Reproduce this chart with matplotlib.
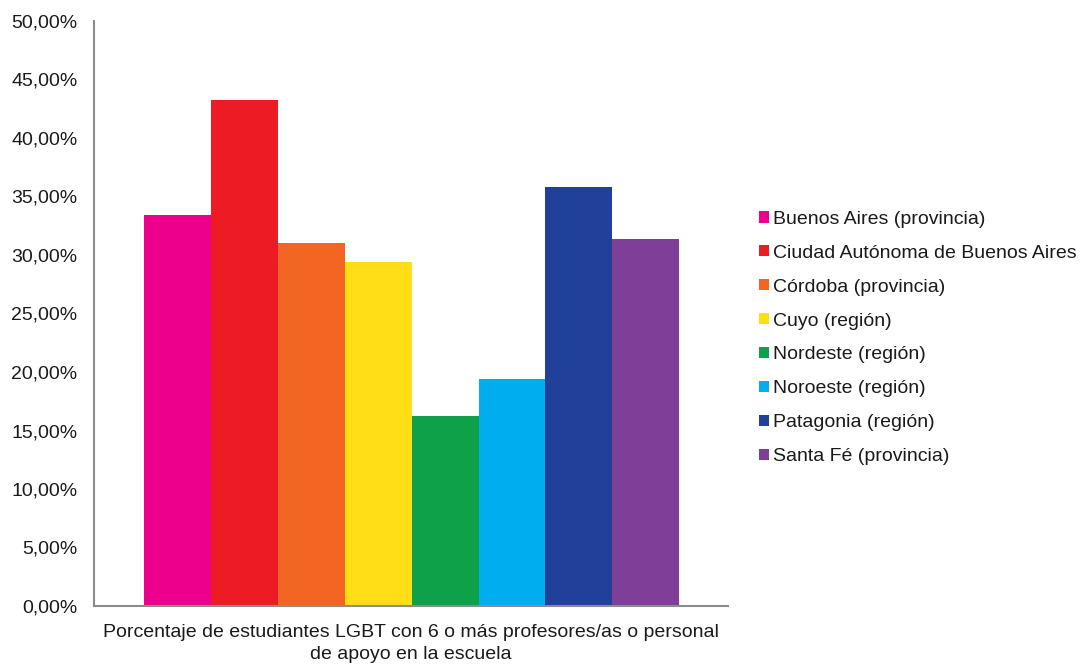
import matplotlib
matplotlib.use("Agg")
import matplotlib.pyplot as plt
from matplotlib.patches import Patch
from matplotlib.ticker import FuncFormatter, MultipleLocator
import numpy as np

plt.rcParams['font.family'] = ['Liberation Sans', 'DejaVu Sans']

categories = ["Buenos Aires (provincia)", "Ciudad Autónoma de Buenos Aires",
              "Córdoba (provincia)", "Cuyo (región)", "Nordeste (región)",
              "Noroeste (región)", "Patagonia (región)", "Santa Fé (provincia)"]
values = [33.42, 43.25, 31.03, 29.40, 16.24, 19.40, 35.81, 31.37]
colors = ["#EC008C", "#ED1C24", "#F26522", "#FFDE17", "#0FA14A",
          "#00AEEF", "#21409A", "#7F3F98"]
xlabel = "Porcentaje de estudiantes LGBT con 6 o más profesores/as o personal\nde apoyo en la escuela"

W, H = 1086, 664
FS = 14
fig = plt.figure(figsize=(W/100, H/100), dpi=100)
ax = fig.add_axes([94/W, (H-606)/H, (728-94)/W, (606-21)/H])

x = np.arange(len(values))
ax.bar(x, values, width=1.0, color=colors, linewidth=0)
ax.set_xlim(-0.5-0.75, len(values)-0.5+0.73)
ax.set_ylim(0, 50)
ax.yaxis.set_major_locator(MultipleLocator(5))
ax.yaxis.set_major_formatter(FuncFormatter(lambda v, p: f"{v:.2f}".replace('.', ',') + "%"))
ax.tick_params(axis='y', length=0, labelsize=FS, pad=12, colors='#1a1a1a')
ax.set_xticks([])
for s in ['top', 'right']:
    ax.spines[s].set_visible(False)
for s in ['left', 'bottom']:
    ax.spines[s].set_color('#8c8c8c')
    ax.spines[s].set_linewidth(1.5)
ax.set_xlabel(xlabel, fontsize=FS, color='#1a1a1a', labelpad=13, linespacing=1.35)

handles = [Patch(facecolor=c, edgecolor='none', label=l) for c, l in zip(colors, categories)]
fig.legend(handles=handles, loc='upper left', bbox_to_anchor=(751/W, 1-203/H),
           frameon=False, fontsize=FS, handlelength=0.52, handleheight=0.52,
           handletextpad=0.22, labelspacing=0.87, borderaxespad=0,
           labelcolor='#1a1a1a')

fig.savefig("out.png", dpi=100)
